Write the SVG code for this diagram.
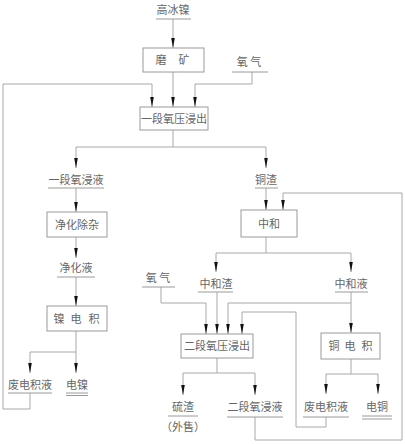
<svg xmlns="http://www.w3.org/2000/svg" width="405" height="444" viewBox="0 0 405 444">
<style>
.bg{fill:#fff}
.box{fill:#fff;stroke:#9a9a9a;stroke-width:1}
.t{font-family:"Noto Sans CJK SC","Liberation Sans",sans-serif;font-size:11px;fill:#666;text-anchor:middle}
.ul{stroke:#9a9a9a;stroke-width:1;fill:none}
.c{stroke:#a8a8a8;stroke-width:1;fill:none}
.a{marker-end:url(#ah)}
</style>
<defs>
<marker id="ah" viewBox="0 0 10 4" refX="10" refY="2" markerWidth="10" markerHeight="4" markerUnits="userSpaceOnUse" orient="auto">
<path d="M0,0.2 L10,2 L0,3.8 Z" fill="#111"/>
</marker>
</defs>
<rect class="bg" x="0" y="0" width="405" height="444"/>
<g id="connectors">
<path class="c a" d="M173,19 V48"/>
<path class="c a" d="M173,72 V107"/>
<path class="c a" d="M252,72 V84 H195 V107"/>
<path class="c a" d="M30,393 V409 H3 V84 H152 V107"/>
<path class="c" d="M173,130 V147 M76,147 H266"/>
<path class="c a" d="M76,147 V168"/>
<path class="c a" d="M266,147 V168"/>
<path class="c a" d="M76,188 V212"/>
<path class="c a" d="M76,237 V258"/>
<path class="c a" d="M76,277 V306"/>
<path class="c" d="M76,331 V352 M30,352 H76"/>
<path class="c a" d="M30,352 V373"/>
<path class="c a" d="M76,352 V373"/>
<path class="c a" d="M266,188 V210"/>
<path class="c a" d="M255,417 V440 H402 V193 H283 V210"/>
<path class="c" d="M266,237 V253 M216,253 H351"/>
<path class="c a" d="M216,253 V272"/>
<path class="c a" d="M351,253 V272"/>
<path class="c a" d="M161,287 V303 H206 V334"/>
<path class="c a" d="M217,292 V334"/>
<path class="c a" d="M351,292 V333"/>
<path class="c a" d="M351,303 H228 V334"/>
<path class="c a" d="M326,417 V427 H296 V312 H242 V334"/>
<path class="c" d="M217,358 V373 M183,373 H255"/>
<path class="c a" d="M183,373 V395"/>
<path class="c a" d="M255,373 V395"/>
<path class="c" d="M351,359 V374 M326,374 H378"/>
<path class="c a" d="M326,374 V394"/>
<path class="c a" d="M378,374 V394"/>
</g>
<g id="gaobingnie"><text class="t" x="173" y="14">高冰镍</text><path class="ul" d="M156,19 H191"/></g>
<g id="moknag"><rect class="box" x="143" y="48" width="61" height="24"/><text class="t" x="161 184" y="64">磨矿</text></g>
<g id="yangqi1"><text class="t" x="249" y="66">氧 气</text><path class="ul" d="M232,72 H268"/></g>
<g id="yiduan"><rect class="box" x="140" y="107" width="68" height="23"/><text class="t" x="174" y="123">一段氧压浸出</text></g>
<g id="yiduanjinye"><text class="t" x="76" y="184">一段氧浸液</text><path class="ul" d="M48,188 H104"/></g>
<g id="jinghuachuza"><rect class="box" x="47" y="212" width="60" height="25"/><text class="t" x="77" y="229">净化除杂</text></g>
<g id="jinghuaye"><text class="t" x="76" y="272">净化液</text><path class="ul" d="M57,277 H95"/></g>
<g id="niedianji"><rect class="box" x="47" y="306" width="60" height="25"/><text class="t" x="59 76 94" y="323">镍电积</text></g>
<g id="feidianjiye1"><text class="t" x="30" y="389">废电积液</text><path class="ul" d="M8,393 H52"/></g>
<g id="diannie"><text class="t" x="77" y="389">电镍</text><path class="ul" d="M66,393 H88 M66,395.5 H88"/></g>
<g id="tongzha"><text class="t" x="266" y="184">铜渣</text><path class="ul" d="M255,188 H278"/></g>
<g id="zhonghe"><rect class="box" x="241" y="210" width="56" height="27"/><text class="t" x="269" y="228">中和</text></g>
<g id="zhonghezha"><text class="t" x="216" y="288">中和渣</text><path class="ul" d="M198,292 H233"/></g>
<g id="zhongheye"><text class="t" x="351" y="288">中和液</text><path class="ul" d="M335,292 H368"/></g>
<g id="yangqi2"><text class="t" x="158" y="282">氧 气</text><path class="ul" d="M142,287 H175"/></g>
<g id="erduan"><rect class="box" x="181" y="334" width="72" height="24"/><text class="t" x="217" y="350">二段氧压浸出</text></g>
<g id="tongdianji"><rect class="box" x="321" y="333" width="59" height="26"/><text class="t" x="334 350 367" y="350">铜电积</text></g>
<g id="liuzha"><text class="t" x="183" y="411">硫渣</text><path class="ul" d="M168,416 H198"/><text class="t" x="183" y="431">（外售）</text></g>
<g id="erduanjinye"><text class="t" x="255" y="411">二段氧浸液</text><path class="ul" d="M227,417 H283"/></g>
<g id="feidianjiye2"><text class="t" x="326" y="411">废电积液</text><path class="ul" d="M303,417 H349"/></g>
<g id="diantong"><text class="t" x="377" y="411">电铜</text><path class="ul" d="M362,416 H392 M362,419 H392"/></g>
</svg>
